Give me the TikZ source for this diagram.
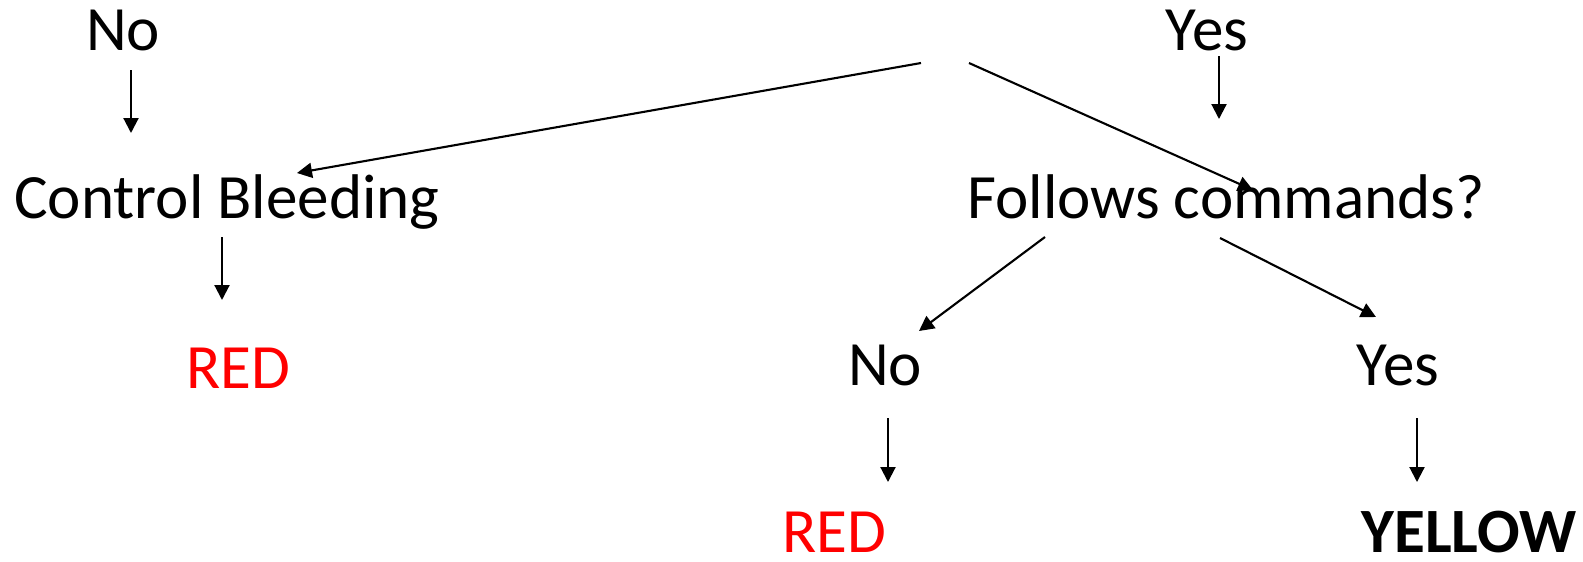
\documentclass[tikz,border=0pt]{standalone}
\usepackage{fontspec}
\setmainfont{Carlito}
\usepackage{xcolor}
\usepackage{tikz}
\usetikzlibrary{arrows.meta,calc}

\begin{document}
\begin{tikzpicture}[
      font=\fontsize{35.9}{43}\selectfont,
      txt/.style={inner sep=0pt, anchor=base},
      verdict/.style={txt, text=red},
      arr/.style={-{Triangle[length=3mm, width=3mm]}, line width=1.2pt},
    ]
    \useasboundingbox (0,0) rectangle (31.66,-11.22);

    % --- left branch ------------------------------------------------------
    \node[txt] (noA)   at ( 2.46, -1.00) {No};
    \node[txt] (bleed) at ( 4.54, -4.36) {Control Bleeding};
    \node[verdict] (redA) at ( 4.76, -7.76) {RED};

    % --- right branch -----------------------------------------------------
    \node[txt] (yesA)    at (24.14, -1.00) {Yes};
    \node[txt] (follows) at (24.52, -4.36) {Follows commands?};
    \node[txt] (noB)     at (17.70, -7.70) {No};
    \node[txt] (yesB)    at (27.96, -7.70) {Yes};
    \node[verdict] (redB) at (16.68, -11.04) {RED};
    \node[txt, font=\fontsize{35.9}{43}\selectfont\bfseries] (yellow)
          at (29.38, -11.04) {YELLOW};

    % --- split from above -------------------------------------------------
    \coordinate (rootL) at (18.42, -1.26);
    \coordinate (rootR) at (19.38, -1.26);
    \draw[arr] (rootL) -- ($(bleed.base)+(1.40,0.90)$);
    \draw[arr] (rootR) -- ($(follows.base)+(0.54,0.56)$);

    % --- straight drops ---------------------------------------------------
    \draw[arr] ($(noA.base)+(0.16,-0.40)$)
            -- ($(noA.base |- bleed.base)+(0.16,1.70)$);
    \draw[arr] ($(yesA.base)+(0.24,-0.12)$)
            -- ($(yesA.base |- follows.base)+(0.24,1.98)$);
    \draw[arr] ($(bleed.base)+(-0.10,-0.38)$)
            -- ($(bleed.base |- redA.base)+(-0.10,1.76)$);
    \draw[arr] ($(noB.base)+(0.06,-0.66)$)
            -- ($(noB.base |- redB.base)+(0.06,1.40)$);
    \draw[arr] ($(yesB.base)+(0.38,-0.66)$)
            -- ($(yesB.base |- yellow.base)+(0.38,1.40)$);

    % --- follows commands? fans out ---------------------------------------
    \draw[arr] ($(follows.base)+(-3.62,-0.38)$) -- ($(noB.base)+(0.68,1.08)$);
    \draw[arr] ($(follows.base)+(-0.12,-0.40)$) -- ($(yesB.base)+(-0.44,1.36)$);
  \end{tikzpicture}
\end{document}
